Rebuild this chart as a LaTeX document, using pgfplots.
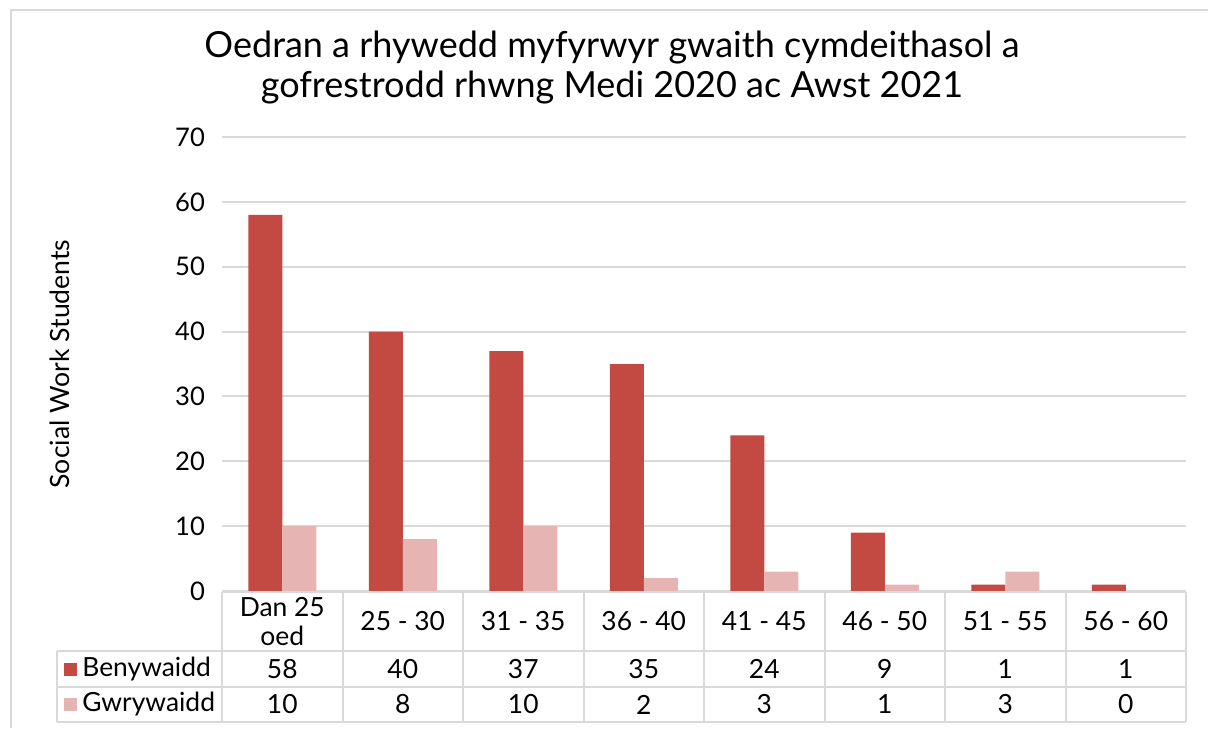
\documentclass[border=0pt]{standalone}
\usepackage{fontspec}
\setmainfont{Lato}
\usepackage{pgfplots}
\pgfplotsset{compat=1.18}
\definecolor{fem}{HTML}{C34A43}
\definecolor{mal}{HTML}{E6B5B3}
\definecolor{gridc}{HTML}{D9D9D9}
\begin{document}
\begin{tikzpicture}[x=0.5pt,y=-0.5pt]
\useasboundingbox (0,0) rectangle (1208,728);
\draw[gridc, line width=0.8pt] (11,728) -- (11,10) -- (1208,10);
\node[align=center, font=\fontsize{18}{20}\selectfont] at (612,68) {Oedran a rhywedd myfyrwyr gwaith cymdeithasol a\\gofrestrodd rhwng Medi 2020 ac Awst 2021};
\node[rotate=90, font=\fontsize{13.3}{15}\selectfont] at (60,364) {Social Work Students};
\begin{axis}[
  at={(111pt,-295.5pt)}, anchor=south west,
  scale only axis, width=482pt, height=227pt,
  xmin=-0.5, xmax=7.5, ymin=0, ymax=70,
  ytick={0,10,...,70}, xtick=\empty,
  ymajorgrids, grid style={gridc, line width=1pt},
  axis line style={draw=none},
  major tick length=0pt,
  ybar=0pt, bar width=17pt,
  /pgf/number format/assume math mode=true,
  yticklabel style={font=\fontsize{12.8}{14}\selectfont, xshift=-5pt},
  clip=false,
]
\addplot[fill=fem, draw=none] coordinates {(0,58) (1,40) (2,37) (3,35) (4,24) (5,9) (6,1) (7,1)};
\addplot[fill=mal, draw=none] coordinates {(0,10) (1,8) (2,10) (3,2) (4,3) (5,1) (6,3) (7,0)};
\end{axis}
% data table
\foreach \i in {0,...,8} \draw[gridc,line width=1pt] ({222+120.5*\i},592) -- ({222+120.5*\i},722);
\draw[gridc,line width=1pt] (222,592) -- (1186,592);
\draw[gridc,line width=1pt] (57,651) -- (1186,651);
\draw[gridc,line width=1pt] (57,687) -- (1186,687);
\draw[gridc,line width=1pt] (57,722) -- (1186,722);
\draw[gridc,line width=1pt] (57,651) -- (57,722);
\begin{scope}[every node/.style={font=\fontsize{13.2}{14.5}\selectfont, inner sep=0pt}]
\node[align=center] at ({222+60.25},621.5) {Dan 25\\oed};
\foreach \lab [count=\i from 1] in {25 - 30,31 - 35,36 - 40,41 - 45,46 - 50,51 - 55,56 - 60}
  \node at ({222+60.25+120.5*\i},621.5) {\lab};
\foreach \v [count=\i from 0] in {58,40,37,35,24,9,1,1}
  \node at ({222+60.25+120.5*\i},669) {\v};
\foreach \v [count=\i from 0] in {10,8,10,2,3,1,3,0}
  \node at ({222+60.25+120.5*\i},704.5) {\v};
\fill[fem] (64,662.5) rectangle (77,675.5);
\fill[mal] (64,698) rectangle (77,711);
\node[anchor=west] at (82,669) {Benywaidd};
\node[anchor=west] at (82,704.5) {Gwrywaidd};
\end{scope}
\end{tikzpicture}
\end{document}
